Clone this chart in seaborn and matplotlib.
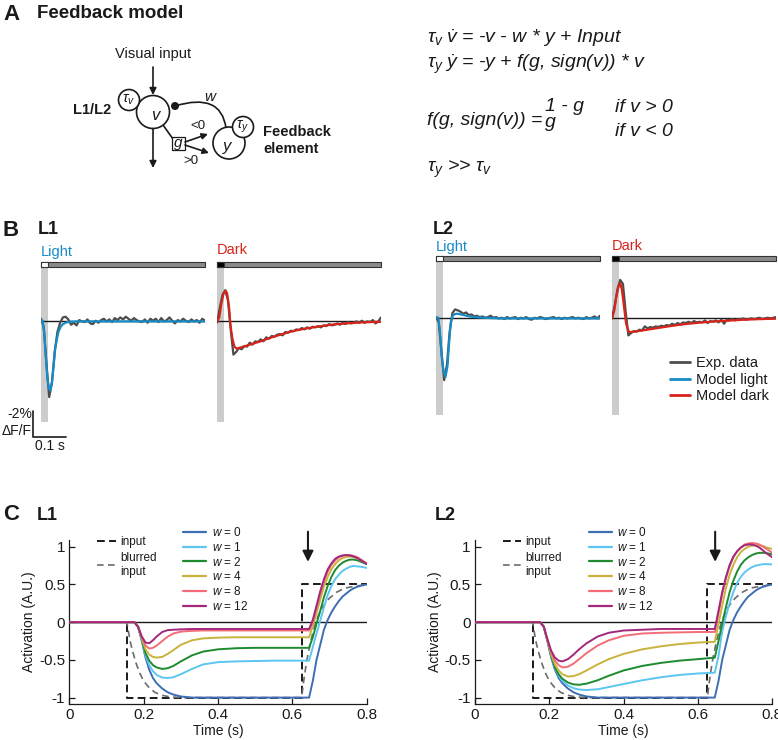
import numpy as np
import pandas as pd
import matplotlib
matplotlib.use("Agg")
import matplotlib.pyplot as plt
import seaborn as sns
from matplotlib.lines import Line2D
from matplotlib.patches import Circle, Rectangle, PathPatch
from matplotlib.path import Path

# ---------------- panel B: measured and modelled responses (dF/F %, time s) ----------------
t_exp = np.linspace(0, 0.5, 61)

l1_light_exp = [0.2, -0.4, -3.2, -5.7, -4.6, -2.3, -0.8, -0.1, 0.3, 0.35,
                0.15, -0.25, -0.1, -0.3, 0.1, 0.0, -0.05, 0.15, -0.15, -0.2,
                0.05, -0.1, 0.1, 0.2, 0.0, 0.15, -0.05, 0.25, 0.1, 0.3,
                0.15, 0.35, 0.2, 0.05, 0.25, 0.1, 0.0, -0.05, 0.15, -0.1,
                0.2, 0.05, 0.2, -0.05, 0.25, 0.0, 0.1, 0.3, 0.05, -0.15,
                0.1, 0.0, 0.2, 0.05, -0.05, 0.15, 0.0, 0.1, -0.1, 0.2, 0.05]
l1_dark_exp = [-0.1, 1.0, 2.0, 2.35, 1.6, -0.6, -2.5, -2.3, -2.0, -2.1,
               -1.85, -1.9, -1.6, -1.75, -1.5, -1.55, -1.35, -1.5, -1.2, -1.3,
               -1.1, -1.15, -1.0, -0.95, -1.05, -0.8, -0.85, -0.7, -0.75, -0.6,
               -0.65, -0.5, -0.6, -0.45, -0.55, -0.4, -0.45, -0.35, -0.45, -0.3,
               -0.35, -0.2, -0.3, -0.25, -0.15, -0.25, -0.1, -0.2, -0.05, -0.15,
               -0.1, 0.0, -0.1, 0.05, -0.1, 0.0, -0.05, 0.1, -0.15, 0.0, 0.3]
l2_light_exp = [0.1, -0.3, -2.5, -4.65, -3.5, -1.0, 0.4, 0.68, 0.6, 0.5,
                0.35, 0.45, 0.25, 0.3, 0.15, 0.2, 0.1, 0.15, 0.05, 0.1,
                0.2, 0.05, 0.1, 0.0, 0.05, -0.05, 0.1, 0.0, 0.05, 0.1,
                -0.05, 0.05, 0.0, 0.1, -0.05, -0.1, 0.05, 0.0, 0.1, 0.05,
                -0.05, 0.0, 0.05, 0.1, 0.0, 0.05, -0.05, 0.05, 0.0, 0.05,
                0.1, 0.0, 0.05, 0.0, -0.05, 0.1, 0.0, 0.05, 0.15, 0.0, 0.2]
l2_dark_exp = [0.0, 1.0, 2.2, 2.9, 2.6, 0.5, -1.28, -1.1, -0.95, -1.0,
               -0.85, -0.9, -0.6, -0.75, -0.65, -0.7, -0.6, -0.65, -0.55, -0.6,
               -0.5, -0.55, -0.4, -0.5, -0.35, -0.45, -0.3, -0.35, -0.25, -0.35,
               -0.2, -0.3, -0.25, -0.3, -0.15, -0.35, -0.2, -0.25, -0.15, -0.3,
               -0.1, -0.4, -0.1, -0.15, -0.05, -0.15, -0.05, -0.1, 0.0, -0.1,
               -0.05, 0.0, -0.05, 0.0, 0.05, -0.05, 0.0, 0.05, 0.0, 0.05, 0.1]

l1_light_mod_t = [0, 0.005, 0.01, 0.015, 0.02, 0.025, 0.029, 0.034, 0.039, 0.043,
                  0.048, 0.053, 0.06, 0.067, 0.077, 0.087, 0.107, 0.133, 0.2, 0.5]
l1_light_mod = [0.1, 0.05, -0.9, -2.8, -4.4, -5.1, -5.2, -4.5, -3.2, -2.1,
                -1.4, -0.8, -0.4, -0.2, -0.08, -0.03, 0, 0, 0, 0]
l1_dark_mod_t = [0, 0.007, 0.013, 0.02, 0.027, 0.031, 0.037, 0.041, 0.047, 0.053,
                 0.06, 0.067, 0.1, 0.133, 0.167, 0.2, 0.233, 0.267, 0.3, 0.333,
                 0.367, 0.4, 0.433, 0.467, 0.5]
l1_dark_mod = [0, 0.3, 1.3, 2.1, 2.3, 2.1, 1.0, -0.3, -1.3, -1.9,
               -2.05, -2.0, -1.75, -1.5, -1.2, -0.95, -0.72, -0.55, -0.42, -0.3,
               -0.2, -0.14, -0.09, -0.05, -0.03]
l2_light_mod_t = [0, 0.007, 0.012, 0.017, 0.023, 0.029, 0.035, 0.04, 0.045, 0.051,
                  0.057, 0.063, 0.07, 0.08, 0.093, 0.107, 0.127, 0.147, 0.173, 0.2, 0.5]
l2_light_mod = [0.1, 0.05, -1.0, -2.8, -4.0, -4.4, -3.6, -1.8, -0.3, 0.2,
                0.32, 0.35, 0.33, 0.28, 0.2, 0.13, 0.08, 0.05, 0.02, 0, 0]
l2_dark_mod_t = [0, 0.007, 0.013, 0.02, 0.025, 0.03, 0.037, 0.043, 0.05, 0.055,
                 0.067, 0.1, 0.133, 0.167, 0.2, 0.233, 0.267, 0.3, 0.333, 0.367,
                 0.4, 0.433, 0.467, 0.5]
l2_dark_mod = [0, 0.6, 1.6, 2.4, 2.65, 2.2, 0.8, -0.4, -0.95, -1.03,
               -1.0, -0.88, -0.75, -0.62, -0.5, -0.4, -0.32, -0.25, -0.2, -0.15,
               -0.1, -0.07, -0.04, -0.02]

flash_dur = 0.02
trace_end = 0.5

# ---------------- panel C: model activation for several feedback weights ----------------
c_time = [0, 0.175, 0.185, 0.195, 0.205, 0.215, 0.225, 0.235, 0.25, 0.265,
          0.28, 0.3, 0.33, 0.36, 0.4, 0.45, 0.5, 0.55, 0.6, 0.645,
          0.655, 0.665, 0.675, 0.685, 0.695, 0.705, 0.715, 0.725, 0.735, 0.745,
          0.755, 0.765, 0.775, 0.785, 0.8]

w0 = [0, 0, -0.06, -0.25, -0.47, -0.63, -0.74, -0.81, -0.88, -0.93,
      -0.96, -0.985, -1.0, -1.0, -1.0, -1.0, -1.0, -1.0, -1.0, -1.0,
      -0.78, -0.5, -0.3, -0.1, 0.03, 0.13, 0.21, 0.28, 0.34, 0.38,
      0.42, 0.45, 0.47, 0.485, 0.5]
l1_w1 = [0, 0, -0.06, -0.24, -0.44, -0.57, -0.65, -0.7, -0.735, -0.74,
         -0.73, -0.69, -0.62, -0.56, -0.53, -0.52, -0.515, -0.51, -0.51, -0.51,
         -0.33, -0.15, 0.02, 0.2, 0.36, 0.48, 0.57, 0.63, 0.68, 0.71,
         0.735, 0.745, 0.74, 0.735, 0.72]
l1_w2 = [0, 0, -0.06, -0.23, -0.41, -0.51, -0.57, -0.6, -0.62, -0.61,
         -0.58, -0.52, -0.44, -0.39, -0.36, -0.345, -0.34, -0.34, -0.34, -0.34,
         -0.2, -0.02, 0.15, 0.33, 0.48, 0.6, 0.69, 0.75, 0.79, 0.815,
         0.83, 0.83, 0.82, 0.8, 0.77]
l1_w4 = [0, 0, -0.06, -0.22, -0.36, -0.43, -0.46, -0.47, -0.46, -0.42,
         -0.37, -0.3, -0.24, -0.215, -0.205, -0.2, -0.2, -0.2, -0.2, -0.2,
         -0.05, 0.12, 0.3, 0.47, 0.6, 0.7, 0.77, 0.82, 0.85, 0.865,
         0.87, 0.865, 0.85, 0.82, 0.78]
l1_w8 = [0, 0, -0.06, -0.2, -0.31, -0.35, -0.34, -0.31, -0.25, -0.19,
         -0.15, -0.125, -0.115, -0.11, -0.11, -0.11, -0.11, -0.11, -0.11, -0.11,
         0.0, 0.18, 0.37, 0.54, 0.67, 0.76, 0.82, 0.86, 0.88, 0.89,
         0.89, 0.88, 0.86, 0.83, 0.78]
l1_w12 = [0, 0, -0.06, -0.19, -0.27, -0.28, -0.24, -0.19, -0.13, -0.105,
          -0.1, -0.095, -0.09, -0.09, -0.09, -0.09, -0.09, -0.09, -0.09, -0.09,
          0.03, 0.22, 0.41, 0.57, 0.7, 0.78, 0.84, 0.87, 0.885, 0.89,
          0.885, 0.87, 0.85, 0.82, 0.77]
l2_w1 = [0, 0, -0.06, -0.25, -0.46, -0.61, -0.71, -0.78, -0.84, -0.875,
         -0.893, -0.9, -0.89, -0.86, -0.82, -0.77, -0.73, -0.7, -0.68, -0.67,
         -0.45, -0.12, 0.08, 0.25, 0.4, 0.52, 0.6, 0.66, 0.7, 0.73,
         0.75, 0.76, 0.77, 0.77, 0.765]
l2_w2 = [0, 0, -0.06, -0.25, -0.45, -0.6, -0.69, -0.75, -0.8, -0.825,
         -0.83, -0.815, -0.77, -0.71, -0.64, -0.58, -0.54, -0.51, -0.49, -0.47,
         -0.25, -0.02, 0.2, 0.4, 0.55, 0.67, 0.76, 0.82, 0.86, 0.89,
         0.91, 0.92, 0.92, 0.915, 0.9]
l2_w4 = [0, 0, -0.06, -0.24, -0.43, -0.56, -0.64, -0.69, -0.72, -0.715,
         -0.69, -0.64, -0.56, -0.49, -0.42, -0.36, -0.32, -0.29, -0.27, -0.26,
         -0.02, 0.22, 0.45, 0.63, 0.76, 0.86, 0.93, 0.97, 1.0, 1.015,
         1.02, 1.02, 1.01, 0.99, 0.97]
l2_w8 = [0, 0, -0.06, -0.24, -0.4, -0.51, -0.57, -0.6, -0.59, -0.55,
         -0.49, -0.41, -0.31, -0.24, -0.18, -0.15, -0.14, -0.135, -0.13, -0.13,
         0.12, 0.37, 0.58, 0.74, 0.86, 0.94, 0.99, 1.03, 1.045, 1.05,
         1.045, 1.03, 1.0, 0.97, 0.92]
l2_w12 = [0, 0, -0.06, -0.23, -0.38, -0.47, -0.51, -0.52, -0.49, -0.43,
          -0.36, -0.28, -0.19, -0.14, -0.11, -0.1, -0.09, -0.09, -0.09, -0.09,
          0.15, 0.4, 0.6, 0.76, 0.87, 0.94, 0.99, 1.02, 1.03, 1.03,
          1.015, 0.99, 0.95, 0.91, 0.86]

input_t = [0, 0.155, 0.155, 0.625, 0.625, 0.8]
input_y = [0, 0, -1, -1, 0.5, 0.5]
blur_t = [0, 0.155, 0.16, 0.165, 0.17, 0.18, 0.19, 0.2, 0.215, 0.23, 0.25, 0.27, 0.3,
          0.625, 0.63, 0.635, 0.64, 0.65, 0.66, 0.67, 0.68, 0.69, 0.7, 0.72, 0.74, 0.76, 0.8]
blur_y = [0, 0, -0.15, -0.28, -0.38, -0.55, -0.68, -0.78, -0.87, -0.93, -0.97, -0.99, -1.0,
          -1.0, -0.8, -0.63, -0.48, -0.24, -0.05, 0.09, 0.19, 0.26, 0.32, 0.4, 0.45, 0.47, 0.5]

w_labels = ["0", "1", "2", "4", "8", "12"]
w_colors = ["#3d6eb4", "#5cc6f0", "#1e8a30", "#c8b33c", "#f26d78", "#a2287c"]
c_xticks = [0, 0.2, 0.4, 0.6, 0.8]
c_xticklabels = ["0", "0.2", "0.4", "0.6", "0.8"]
c_yticks = [-1, -0.5, 0, 0.5, 1]
c_yticklabels = ["-1", "-0.5", "0", "0.5", "1"]

blue = "#168bc6"
red = "#d8241b"
exp_gray = "#4d4d4d"

# ---------------- style ----------------
sns.set_theme(style="ticks")
plt.rcParams["font.family"] = ["Liberation Sans", "DejaVu Sans"]
plt.rcParams["mathtext.fontset"] = "custom"
plt.rcParams["mathtext.rm"] = "Liberation Sans"
plt.rcParams["mathtext.it"] = "Liberation Sans:italic"
plt.rcParams["mathtext.bf"] = "Liberation Sans:bold"
plt.rcParams["axes.unicode_minus"] = False
for key in ["axes.edgecolor", "xtick.color", "ytick.color", "text.color", "axes.labelcolor"]:
    plt.rcParams[key] = "k"

W, H = 778, 740
fig = plt.figure(figsize=(W / 100, H / 100), dpi=100)
fig.patch.set_facecolor("white")


def px_rect(x0, x1, y0, y1):
    return [x0 / W, 1 - y1 / H, (x1 - x0) / W, (y1 - y0) / H]


# overlay axes in pixel units for labels and the schematic
ax0 = fig.add_axes([0, 0, 1, 1])
ax0.set_xlim(0, W)
ax0.set_ylim(H, 0)
ax0.axis("off")


def arrow(p0, p1, ms=10, lw=1.2):
    ax0.annotate("", xy=p1, xytext=p0,
                 arrowprops=dict(arrowstyle="-|>", color="k", lw=lw,
                                 mutation_scale=ms, shrinkA=0, shrinkB=0))


# ---------------- panel A ----------------
ax0.text(3, 14, "A", fontsize=16, fontweight="bold", va="center")
ax0.text(37, 14, "Feedback model", fontsize=13.5, fontweight="bold", va="center")

ax0.text(153, 54, "Visual input", fontsize=10.5, ha="center", va="center")
arrow((153, 67), (153, 95))
ax0.add_patch(Circle((153, 112), 16.5, fc="white", ec="k", lw=1.2, zorder=3))
ax0.add_patch(Circle((129, 100), 10.5, fc="white", ec="k", lw=1.2, zorder=4))
ax0.text(155, 116, "v", fontsize=12, style="italic", ha="center", va="center", zorder=5)
ax0.text(129, 100, r"$\tau_v$", fontsize=10.5, ha="center", va="center", zorder=5)
ax0.text(92, 110, "L1/L2", fontsize=10.5, fontweight="bold", ha="center", va="center")
arrow((153, 128.5), (153, 168))
ax0.plot([163, 173], [125, 139], color="k", lw=1.2)
ax0.add_patch(Rectangle((172, 137), 13, 13, fc="white", ec="k", lw=0.9, zorder=3))
ax0.text(178.5, 142.5, "g", fontsize=11, style="italic", ha="center", va="center", zorder=5)
arrow((185, 142), (208, 134), ms=9)
arrow((185, 145), (209, 153), ms=9)
ax0.text(198, 126, "<0", fontsize=9.5, ha="center", va="center")
ax0.text(191, 161, ">0", fontsize=9.5, ha="center", va="center")
ax0.add_patch(Circle((175, 106), 3.3, fc="k", ec="k", zorder=4))
ax0.add_patch(PathPatch(Path([(175, 106), (221, 92), (226, 128)],
                             [Path.MOVETO, Path.CURVE3, Path.CURVE3]),
                        fc="none", ec="k", lw=1.2, zorder=2))
ax0.text(210, 97, "w", fontsize=11, style="italic", ha="center", va="center")
ax0.add_patch(Circle((229, 143), 16, fc="white", ec="k", lw=1.2, zorder=3))
ax0.add_patch(Circle((243, 127), 10.5, fc="white", ec="k", lw=1.2, zorder=4))
ax0.text(227, 147, "y", fontsize=12, style="italic", ha="center", va="center", zorder=5)
ax0.text(243, 127, r"$\tau_y$", fontsize=10.5, ha="center", va="center", zorder=5)
ax0.text(263, 132, "Feedback", fontsize=10.5, fontweight="bold", va="center")
ax0.text(263, 149, "element", fontsize=10.5, fontweight="bold", va="center")

eq_kw = dict(fontsize=14, style="italic", va="baseline")
ax0.text(427, 43, r"$\tau_v\;\dot{v}$ = -v - w * y + Input", **eq_kw)
ax0.text(427, 68, r"$\tau_y\;\dot{y}$ = -y + f(g, sign(v)) * v", **eq_kw)
ax0.text(427, 125, "f(g, sign(v)) =", **eq_kw)
ax0.text(545, 111, "1 - g", **eq_kw)
ax0.text(545, 127, "g", **eq_kw)
ax0.text(615, 112, "if v > 0", **eq_kw)
ax0.text(615, 136, "if v < 0", **eq_kw)
ax0.text(427, 172, r"$\tau_y$ >> $\tau_v$", **eq_kw)

# ---------------- panel B ----------------
ax0.text(3, 230, "B", fontsize=16, fontweight="bold", va="center")
ax0.text(38, 230, "L1", fontsize=13, fontweight="bold", va="center")
ax0.text(433, 230, "L2", fontsize=13, fontweight="bold", va="center")


def trace_panel(x0, y_top, ylim, bar_lo, shade_lo, stim_fc, exp_y, mod_t, mod_y, mod_color):
    ax = fig.add_axes(px_rect(x0, x0 + 164, y_top, y_top + 170))
    ax.add_patch(Rectangle((0, shade_lo), flash_dur, bar_lo - shade_lo,
                           fc="#cccccc", lw=0, zorder=0))
    ax.add_patch(Rectangle((0, bar_lo), trace_end, 0.38, fc="#8a8a8a", ec="#333333",
                           lw=0.8, clip_on=False, zorder=1))
    ax.add_patch(Rectangle((0, bar_lo), flash_dur, 0.38, fc=stim_fc, ec="#333333",
                           lw=0.8, clip_on=False, zorder=1))
    ax.axhline(0, color="k", lw=1.0, zorder=1)
    sns.lineplot(x=t_exp, y=exp_y, ax=ax, color=exp_gray, lw=1.6,
                 estimator=None, sort=False, zorder=2)
    sns.lineplot(x=mod_t, y=mod_y, ax=ax, color=mod_color, lw=1.6,
                 estimator=None, sort=False, zorder=3)
    ax.set_xlim(0, trace_end)
    ax.set_ylim(*ylim)
    ax.axis("off")
    return ax


b_l1_light = trace_panel(41, 255, (-7.8, 5.0), 4.07, -7.6, "white",
                         l1_light_exp, l1_light_mod_t, l1_light_mod, blue)
trace_panel(217, 255, (-7.8, 5.0), 4.07, -7.6, "black",
            l1_dark_exp, l1_dark_mod_t, l1_dark_mod, red)
trace_panel(436, 252, (-7.8, 5.0), 4.32, -7.27, "white",
            l2_light_exp, l2_light_mod_t, l2_light_mod, blue)
b_l2_dark = trace_panel(612, 252, (-7.8, 5.0), 4.32, -7.27, "black",
                        l2_dark_exp, l2_dark_mod_t, l2_dark_mod, red)

ax0.text(41, 252, "Light", fontsize=10.5, color=blue, va="center")
ax0.text(217, 250, "Dark", fontsize=10.5, color=red, va="center")
ax0.text(436, 247, "Light", fontsize=10.5, color=blue, va="center")
ax0.text(612, 246, "Dark", fontsize=10.5, color=red, va="center")

# scale bar: 2 % dF/F and 0.1 s
sb_x, sb_y, sb_pct, sb_t = -0.023, -8.73, 2.0, 0.1
b_l1_light.plot([sb_x, sb_x, sb_x + sb_t], [sb_y + sb_pct, sb_y, sb_y],
                color="k", lw=1.2, clip_on=False)
b_l1_light.text(sb_x - 0.005, sb_y + 1.73, "-2%", fontsize=10, ha="right", va="center")
b_l1_light.text(sb_x - 0.005, sb_y + 0.45, "\u0394F/F", fontsize=10, ha="right", va="center")
b_l1_light.text(sb_x + sb_t / 2, sb_y - 0.62, "0.1 s", fontsize=10, ha="center", va="center")

b_handles = [Line2D([], [], color=exp_gray, lw=2), Line2D([], [], color=blue, lw=2),
             Line2D([], [], color=red, lw=2)]
b_l2_dark.legend(b_handles, ["Exp. data", "Model light", "Model dark"],
                 loc="upper left", bbox_to_anchor=(670 / W, 1 - 356 / H),
                 bbox_transform=fig.transFigure, frameon=False, fontsize=10.5,
                 handlelength=1.4, handletextpad=0.35, borderpad=0, borderaxespad=0,
                 labelspacing=0.18)

# ---------------- panel C ----------------
ax0.text(3, 514, "C", fontsize=16, fontweight="bold", va="center")


def activation_panel(x0, curves, arrow_x, title, title_x):
    ax = fig.add_axes(px_rect(x0, x0 + 297.4, 540, 704))
    ax0.text(title_x, 515, title, fontsize=13, fontweight="bold", va="center")
    ax.axhline(0, color="k", lw=1.0, zorder=1)
    sns.lineplot(x=input_t, y=input_y, ax=ax, color="k", lw=1.4, linestyle=(0, (4, 2.2)),
                 estimator=None, sort=False, zorder=2)
    sns.lineplot(x=blur_t, y=blur_y, ax=ax, color="#6b6b6b", lw=1.2, linestyle=(0, (4, 2.6)),
                 estimator=None, sort=False, zorder=2)
    df = pd.concat([pd.DataFrame({"t": c_time, "act": vals, "w": lab})
                    for lab, vals in zip(w_labels, curves)])
    sns.lineplot(data=df, x="t", y="act", hue="w", hue_order=w_labels,
                 palette=dict(zip(w_labels, w_colors)), lw=1.4, estimator=None,
                 sort=False, legend=False, ax=ax, zorder=3)
    ax.set_xlim(0, 0.8)
    ax.set_ylim(-1.085, 1.09)
    ax.set_xticks(c_xticks)
    ax.set_xticklabels(c_xticklabels)
    ax.set_yticks(c_yticks)
    ax.set_yticklabels(c_yticklabels)
    sns.despine(ax=ax)
    for sp in ["left", "bottom"]:
        ax.spines[sp].set_linewidth(0.9)
    ax.tick_params(direction="in", length=4, width=0.9, labelsize=11, pad=3)
    ax.set_xlabel("Time (s)", fontsize=10, labelpad=1)
    ax.set_ylabel("Activation (A.U.)", fontsize=10, labelpad=2)
    ax.annotate("", xy=(arrow_x, 0.8), xytext=(arrow_x, 1.2), annotation_clip=False,
                arrowprops=dict(arrowstyle="-|>", color="k", lw=1.5,
                                mutation_scale=16, shrinkA=0, shrinkB=0))

    in_handles = [Line2D([], [], color="k", lw=1.4, ls=(0, (4, 2.2))),
                  Line2D([], [], color="#6b6b6b", lw=1.2, ls=(0, (4, 2.6)))]
    leg1 = ax.legend(in_handles, ["input", "blurred\ninput"], loc="upper left",
                     bbox_to_anchor=((x0 + 27.5) / W, 1 - 536 / H),
                     bbox_transform=fig.transFigure, frameon=False, fontsize=8.5,
                     handlelength=1.6, handletextpad=0.35, borderpad=0,
                     borderaxespad=0, labelspacing=0.35)
    ax.add_artist(leg1)
    w_handles = [Line2D([], [], color=c, lw=1.6) for c in w_colors]
    ax.legend(w_handles, [r"$w$ = " + lab for lab in w_labels], loc="upper left",
              bbox_to_anchor=((x0 + 113.5) / W, 1 - 526 / H),
              bbox_transform=fig.transFigure, frameon=False, fontsize=8.5,
              handlelength=2.0, handletextpad=0.45, borderpad=0,
              borderaxespad=0, labelspacing=0.15)
    return ax


activation_panel(69.3, [w0, l1_w1, l1_w2, l1_w4, l1_w8, l1_w12], 0.642, "L1", 37)
activation_panel(475, [w0, l2_w1, l2_w2, l2_w4, l2_w8, l2_w12], 0.646, "L2", 435)

fig.savefig("out.png", dpi=100)
